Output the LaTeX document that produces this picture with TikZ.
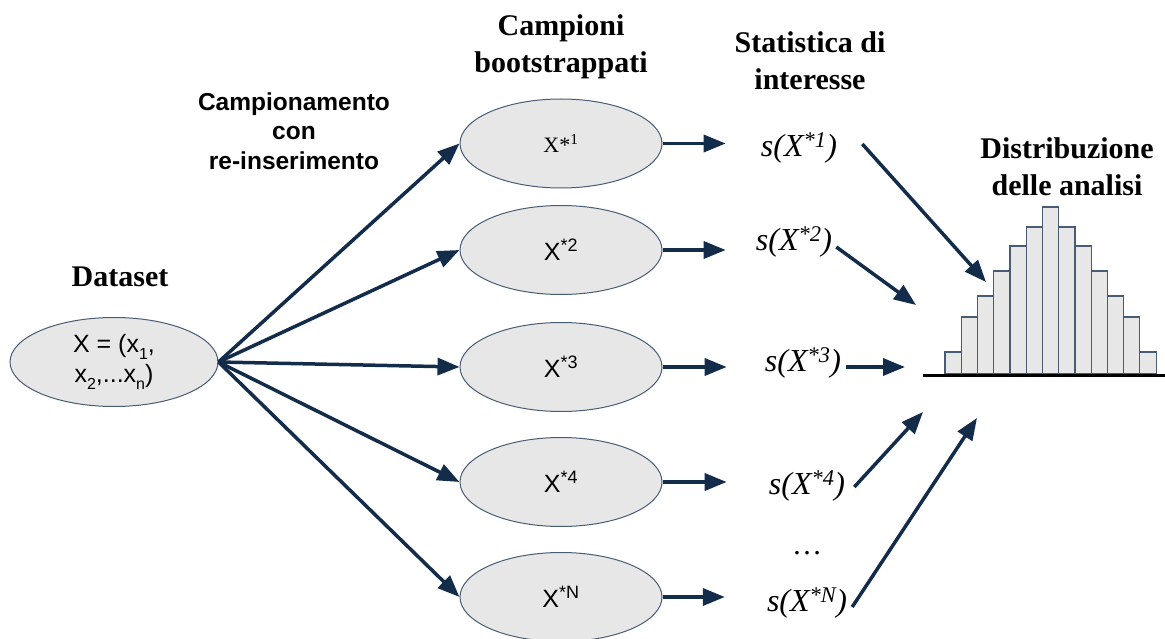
\documentclass[tikz,border=0pt]{standalone}
\usepackage{fontspec}
\setmainfont{Liberation Serif}
\setsansfont{Liberation Sans}
\usetikzlibrary{arrows.meta, shapes.geometric, positioning}
\definecolor{arrowblue}{RGB}{19,44,74}
\definecolor{ellgray}{RGB}{231,231,231}
\definecolor{edgeblue}{RGB}{72,92,116}
\newcommand{\dsub}[1]{\raisebox{-7pt}{\fontsize{16}{16}\selectfont #1}}
\tikzset{
  sample/.style={ellipse, draw=edgeblue, fill=ellgray, line width=1pt,
    minimum width=202pt, minimum height=89pt, inner sep=0pt,
    font=\sffamily\fontsize{25}{30}\selectfont},
  head/.style={align=center, inner sep=0pt, font=\bfseries\fontsize{30}{37}\selectfont},
  stat/.style={inner sep=0pt, font=\itshape\fontsize{32}{38}\selectfont},
  arr/.style={draw=arrowblue, line width=3.5pt, -{Triangle[length=22pt,width=17pt]}},
  bar/.style={draw=edgeblue, fill=ellgray, line width=1.2pt}
}
\begin{document}
\begin{tikzpicture}[x=1pt, y=-1pt]
\useasboundingbox (0,0) rectangle (1165,639);
\node[head] (dataset) at (120,277) {Dataset};
\node[head, font=\sffamily\bfseries\fontsize{24.5}{29.5}\selectfont] (resample) at (294,131) {Campionamento\\con\\re-inserimento};
\node[head] (samples) at (561,47) {Campioni\\bootstrappati};
\node[head] (statistic) at (810,61) {Statistica di\\interesse};
\node[head] (distrib) at (1067,167) {Distribuzione\\delle analisi};
\node[sample, minimum width=208pt, align=center] (data) at (114,362) {X = (x\dsub{1},\\x\dsub{2},...x\dsub{n})};
\node[sample, font=\rmfamily\fontsize{22}{26}\selectfont] (samp1) at (561,143.5) {X*\textsuperscript{1}};
\foreach \i/\y in {2/250,3/367,4/482,N/597}
  \node[sample] (samp\i) at (561,\y) {X\textsuperscript{\fontsize{18}{18}\selectfont*\i}};
\foreach \i/\x/\y in {1/799/148,2/794/242,3/803/363,4/807/486,N/807/603}
  \node[stat] (stat\i) at (\x,\y) {s(X\textsuperscript{*\i})};
\node[font=\fontsize{30}{30}\selectfont] (dots) at (807,553) {\dots};
\foreach \i in {1,2,3,4,N}
  \draw[arr] (data.east) -- (samp\i.west);
\foreach \i/\g in {1/35,2/30,3/38,4/42,N/42}
  \draw[arr, shorten >=\g pt] (samp\i.east) -- (samp\i.east -| stat\i.west);
\coordinate (h1) at (986,282);
\coordinate (h2) at (916,305);
\coordinate (h3) at (905,367);
\coordinate (h4) at (923,412);
\coordinate (hN) at (977,418);
\draw[arr] ([shift={(25,-4)}]stat1.east) -- (h1);
\draw[arr] ([shift={(4,5)}]stat2.east) -- (h2);
\draw[arr] ([shift={(5,0)}]stat3.east |- h3) -- (h3);
\draw[arr] ([shift={(9,1)}]stat4.east) -- (h4);
\draw[arr] ([shift={(5,4)}]statN.east) -- (hN);
\foreach \h [count=\k from 0] in {352,317,296,271,246,227,207,227,246,271,296,317,352}
  \draw[bar] (945+\k*16.24,374) rectangle (945+\k*16.24+16.24,\h);
\coordinate (axisl) at (923,375);
\coordinate (axisr) at (1165,375);
\draw[line width=3pt] (axisl) -- (axisr);
\end{tikzpicture}
\end{document}
